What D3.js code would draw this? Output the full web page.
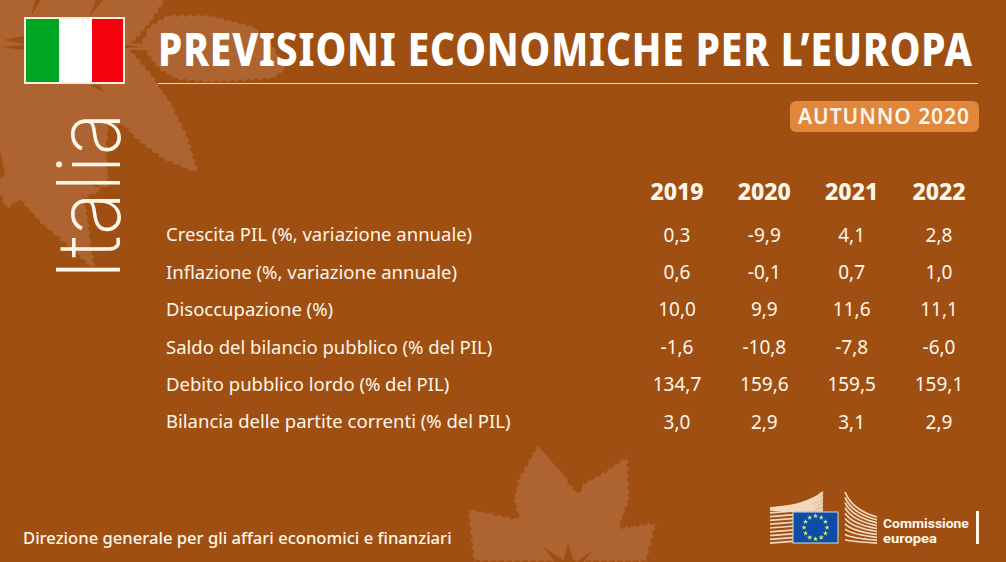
<!DOCTYPE html>
<html>
<head>
<meta charset="utf-8">
<script src="https://cdn.jsdelivr.net/npm/d3@7"></script>
<style>
  html, body { margin: 0; padding: 0; background: #9f4f12; }
  svg { display: block; }
  text { font-family: "Noto Sans", "Open Sans", sans-serif; fill: #fff6ea; }
</style>
</head>
<body>
<div id="chart"></div>
<script>
var years = ["2019", "2020", "2021", "2022"];
var indicators = [
    "Crescita PIL (%, variazione annuale)",
    "Inflazione (%, variazione annuale)",
    "Disoccupazione (%)",
    "Saldo del bilancio pubblico (% del PIL)",
    "Debito pubblico lordo (% del PIL)",
    "Bilancia delle partite correnti (% del PIL)"
];
var values2019 = ["0,3", "0,6", "10,0", "-1,6", "134,7", "3,0"];
var values2020 = ["-9,9", "-0,1", "9,9", "-10,8", "159,6", "2,9"];
var values2021 = ["4,1", "0,7", "11,6", "-7,8", "159,5", "3,1"];
var values2022 = ["2,8", "1,0", "11,1", "-6,0", "159,1", "2,9"];
var columns = [values2019, values2020, values2021, values2022];

var width = 1006, height = 562;
var leafColor = "#ad6431", bg = "#9f4f12";

var svg = d3.select("#chart").append("svg")
    .attr("width", width)
    .attr("height", height);

svg.append("rect").attr("width", width).attr("height", height).attr("fill", bg);

// squeeze a text horizontally until it is as wide as the reference
function fitText(sel, x, y, target) {
    var len = sel.node().getComputedTextLength();
    sel.attr("transform", "translate(" + x + "," + y + ") scale(" + (target / len) + ",1)");
    return sel;
}

// leaf outline with small teeth along the edges
function serrate(points, step, amp) {
    var out = [];
    for (var i = 0; i < points.length - 1; i++) {
        var a = points[i], b = points[i + 1];
        var dx = b[0] - a[0], dy = b[1] - a[1];
        var len = Math.sqrt(dx * dx + dy * dy);
        var n = Math.max(1, Math.round(len / step));
        for (var k = 0; k < n; k++) {
            var t = k / n;
            out.push([a[0] + dx * t, a[1] + dy * t]);
            var t2 = (k + 0.8) / n;
            out.push([a[0] + dx * t2 + dy / len * amp, a[1] + dy * t2 - dx / len * amp]);
        }
    }
    out.push(points[points.length - 1]);
    return "M" + out.map(function (p) { return p[0].toFixed(1) + "," + p[1].toFixed(1); }).join("L") + "Z";
}

// background leaves
var leaves = svg.append("g").attr("fill", leafColor);
// main leaf, top left
leaves.append("path").attr("d", serrate([
    [163, 0], [150, 20], [137, 36], [125, 46],
    [150, 75], [170, 105], [185, 135], [196, 171], [165, 158], [140, 140], [123, 123],
    [107, 125], [105, 150], [107, 187], [73, 176], [100, 190], [83, 197], [93, 267],
    [67, 243], [40, 220], [20, 197], [7, 207], [0, 190], [0, 0]
], 8, 2.5));
// lobe behind the start of the title
leaves.append("path").attr("d", serrate([
    [142, 46], [150, 28], [168, 17], [210, 17], [253, 28],
    [270, 45], [284, 68], [273, 77], [210, 81], [178, 78], [160, 68], [148, 52]
], 8, 2.5));
leaves.append("path").attr("d", "M128,43 L146,44 L146,50 L128,50 Z");
// leaf at the bottom
leaves.append("path").attr("d", serrate([
    [537, 445], [517, 480], [513, 500], [518, 518], [467, 508], [473, 562],
    [647, 562], [657, 522], [620, 527], [630, 500], [628, 455], [603, 472], [583, 483],
    [578, 493], [568, 480]
], 8, 2.5));
// dark veins cut into the leaves
var veins = svg.append("g").attr("fill", bg);
veins.append("path").attr("d", "M3,40 L25,36 L25,44 Z");
veins.append("path").attr("d", "M0,47 L25,45 L25,50 Z");
veins.append("path").attr("d", "M35,0 L31,16 L41,0 Z");
veins.append("path").attr("d", "M96,0 L89,17 L103,0 Z");
veins.append("path").attr("d", "M90,85 L103,92 L100,85 Z");
veins.append("path").attr("d", "M0,150 L5,175 L0,178 Z");
veins.append("path").attr("d", "M125,45 L143,47 L125,48 Z");
veins.append("path").attr("d", "M568,543 L563,562 L574,562 Z");
veins.append("path").attr("d", "M543,547 L566,562 L555,562 Z");
veins.append("path").attr("d", "M593,550 L576,562 L583,562 Z");

// flag
var flag = svg.append("g");
flag.append("rect").attr("x", 24).attr("y", 17).attr("width", 101).attr("height", 67).attr("fill", "#fbeee0");
flag.append("rect").attr("x", 26).attr("y", 19).attr("width", 33).attr("height", 63).attr("fill", "#00a521");
flag.append("rect").attr("x", 59).attr("y", 19).attr("width", 33).attr("height", 63).attr("fill", "#ffffff");
flag.append("rect").attr("x", 92).attr("y", 19).attr("width", 31).attr("height", 63).attr("fill", "#f5000f");

// title
var title = svg.append("text")
    .style("font-size", "46px").style("font-weight", 800)
    .style("letter-spacing", "1px").style("fill", "#ffffff")
    .text("PREVISIONI ECONOMICHE PER L\u2019EUROPA");
fitText(title, 158, 65.5, 815);
svg.append("line")
    .attr("x1", 158).attr("x2", 978).attr("y1", 83.5).attr("y2", 83.5)
    .attr("stroke", "#f5dcae").attr("stroke-width", 1);

// season badge
svg.append("rect")
    .attr("x", 790).attr("y", 101).attr("width", 189).attr("height", 31).attr("rx", 6)
    .attr("fill", "#e0873b");
var season = svg.append("text")
    .style("font-size", "22px").style("font-weight", 600).style("letter-spacing", "1px")
    .text("AUTUNNO 2020");
fitText(season, 798, 124, 172);

// country name
svg.append("text")
    .attr("transform", "translate(120,280) rotate(-90)")
    .style("font-family", "Inter, Lato, sans-serif")
    .style("font-size", "88px").style("font-weight", 200)
    .attr("textLength", 168).attr("lengthAdjust", "spacingAndGlyphs")
    .text("Italia");

// table
var x = d3.scalePoint().domain(years).range([677, 939]);
var y = d3.scalePoint().domain(indicators).range([235, 422]);

svg.append("g").selectAll("text").data(years).enter().append("text")
    .attr("x", function (d) { return x(d); })
    .attr("y", 200)
    .attr("text-anchor", "middle")
    .style("font-size", "23px").style("font-weight", 800)
    .text(function (d) { return d; });

svg.append("g").selectAll("text").data(indicators).enter().append("text")
    .attr("x", 166)
    .attr("y", function (d) { return y(d); })
    .attr("dy", "0.35em")
    .style("font-size", "18.5px")
    .text(function (d) { return d; });

years.forEach(function (year, i) {
    svg.append("g").selectAll("text").data(columns[i]).enter().append("text")
        .attr("x", x(year))
        .attr("y", function (d, j) { return y(indicators[j]); })
        .attr("dy", "0.35em")
        .attr("text-anchor", "middle")
        .style("font-size", "19px")
        .text(function (d) { return d; });
});

// footer
var footer = svg.append("text")
    .style("font-size", "16px").style("font-weight", 500)
    .text("Direzione generale per gli affari economici e finanziari");
fitText(footer, 23, 544, 429);

// commission logo
var logo = svg.append("g").attr("fill", "none").attr("stroke", "#f3d9bf").attr("stroke-width", 1.7);
d3.range(0, 10).forEach(function (i) {
    logo.append("path")
        .attr("d", "M770," + (509 + i * 3.8) + " L795," + (509 + i * 3.8 - 2));
    logo.append("path")
        .attr("d", "M770," + (509 - 1 + i * 0.2) + " Q806," + (506 + i * 0.6) + " 823," + (492 + i * 2.1));
    logo.append("path")
        .attr("d", "M845," + (492 + i * 5.3) + " Q852," + (510 + i * 3.5) + " 877," + (517 + i * 2.9));
});
var ring = svg.append("g");
ring.append("rect").attr("x", 793).attr("y", 512).attr("width", 45).attr("height", 31)
    .attr("fill", "#0e4da4").attr("stroke", "#d9d9e0");
d3.range(12).forEach(function (i) {
    var a = i * Math.PI / 6;
    ring.append("path")
        .attr("d", d3.symbol().type(d3.symbolStar).size(9)())
        .attr("transform", "translate(" + (815.5 + 11.5 * Math.cos(a)) + "," + (527.5 + 11.5 * Math.sin(a)) + ")")
        .attr("fill", "#dbe87a");
});
var comm = svg.append("text").style("font-family", "Roboto").style("font-size", "12.8px").style("font-weight", 700).text("Commissione");
fitText(comm, 883, 527.5, 86);
var eur = svg.append("text").style("font-family", "Roboto").style("font-size", "12.8px").style("font-weight", 700).text("europea");
fitText(eur, 883, 543, 54);
svg.append("rect").attr("x", 976).attr("y", 511).attr("width", 3).attr("height", 33).attr("fill", "#fff6ea");
</script>
</body>
</html>
